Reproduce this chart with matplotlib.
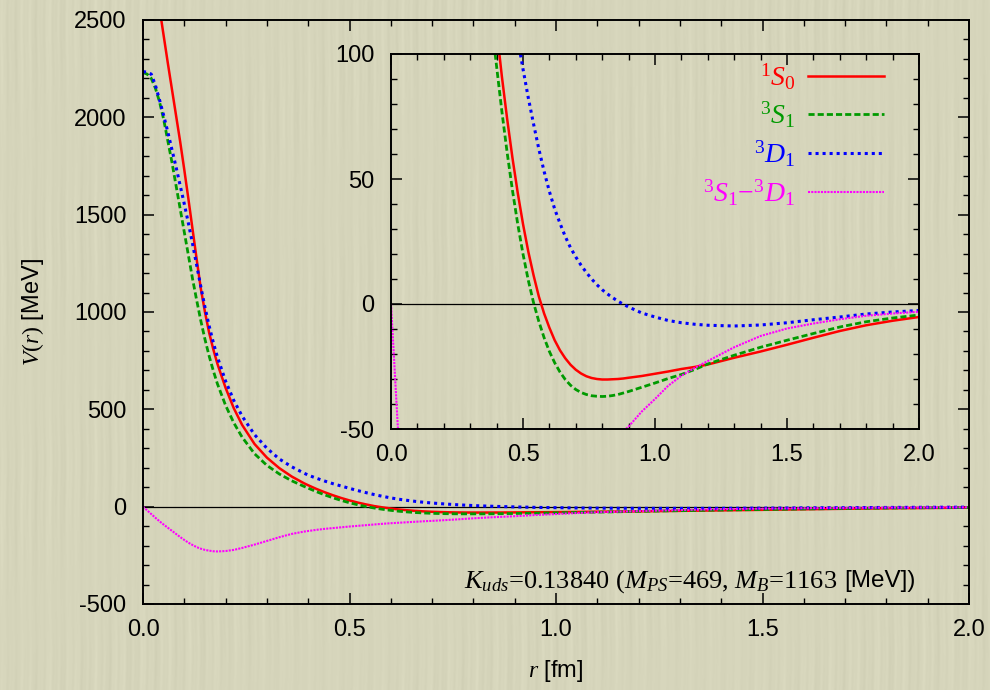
import numpy as np
import matplotlib
matplotlib.use("Agg")
import matplotlib.pyplot as plt
from matplotlib.offsetbox import TextArea, HPacker, AnchoredOffsetbox

plt.rcParams['font.family'] = 'Liberation Sans'
plt.rcParams['mathtext.fontset'] = 'custom'
plt.rcParams['mathtext.rm'] = 'Liberation Serif'
plt.rcParams['mathtext.it'] = 'Liberation Serif:italic'
plt.rcParams['mathtext.bf'] = 'Liberation Serif:bold'
plt.rcParams['axes.unicode_minus'] = False

# radial distance [fm]
r = [0.00, 0.01, 0.02, 0.03, 0.04, 0.05, 0.06, 0.07, 0.08, 0.09,
     0.10, 0.11, 0.12, 0.13, 0.14, 0.15, 0.16, 0.17, 0.18, 0.20,
     0.22, 0.24, 0.27, 0.30, 0.33, 0.36, 0.39,
     0.40, 0.42, 0.44, 0.46, 0.48, 0.50, 0.52, 0.54, 0.56, 0.58,
     0.60, 0.62, 0.64, 0.66, 0.68, 0.70, 0.72, 0.74, 0.76, 0.78,
     0.80, 0.82, 0.84, 0.86, 0.88, 0.90,
     0.95, 1.00, 1.05, 1.10, 1.15, 1.20, 1.30, 1.40,
     1.50, 1.60, 1.70, 1.80, 1.90, 2.00]

# potentials [MeV]
v_1s0 = [3150, 3000, 2850, 2705, 2560, 2420, 2280, 2145, 2010, 1875,
         1730, 1580, 1425, 1270, 1120, 1000, 895, 810, 735, 610,
         505, 420, 322, 252, 198, 155, 120,
         110, 91, 74, 58.5, 44.5, 32, 21, 11.5, 3.0, -3.8,
         -9.5, -14.5, -18.5, -21.7, -24.3, -26.3, -27.8, -28.9, -29.6, -30.0,
         -30.2, -30.2, -30.1, -30.0, -29.8, -29.5,
         -28.8, -27.9, -27.0, -26.0, -25.2, -24.2, -21.5, -19.0,
         -16.3, -13.5, -10.8, -8.5, -6.7, -5.2]

v_3s1 = [2230, 2222, 2200, 2150, 2080, 1990, 1880, 1770, 1650, 1530,
         1410, 1290, 1170, 1060, 955, 860, 775, 700, 632, 520,
         430, 357, 272, 212, 168, 133, 104,
         95, 77, 60.5, 45.5, 32, 20, 9.5, 0.5, -7, -13.5,
         -19, -23.5, -27.2, -30.2, -32.5, -34.2, -35.4, -36.2, -36.7, -36.9,
         -37.0, -36.9, -36.6, -36.2, -35.6, -35.0,
         -33.3, -31.6, -29.8, -28.2, -26.2, -24.0, -20.5, -17.3,
         -14.5, -11.8, -9.2, -7.1, -5.6, -4.4]

v_3d1 = [2235, 2232, 2222, 2165, 2090, 2010, 1925, 1835, 1745, 1650,
         1555, 1455, 1350, 1240, 1130, 1025, 930, 845, 770, 645,
         545, 465, 370, 300, 245, 205, 172,
         162, 146, 131.5, 118, 106, 94, 82.5, 72, 62, 53,
         45, 38, 32.3, 27, 22.5, 18.8, 15.5, 12.6, 10, 7.7,
         5.7, 4, 2.5, 1.1, -0.1, -1.2,
         -3.6, -5.2, -6.6, -7.5, -8.1, -8.5, -8.8, -8.4,
         -7.5, -6.3, -5.2, -4.0, -3.2, -2.6]

v_sd = [0, -19, -38, -57, -75, -92, -108, -124, -140, -156,
        -171, -185, -197, -208, -216, -222, -226, -229, -230, -228,
        -222, -212, -195, -176, -157, -140, -128,
        -125, -119, -114, -110, -106, -102, -98.5, -95, -91.5, -88,
        -85, -82.5, -80, -77.5, -75, -73, -70.5, -68, -65.5, -62.5,
        -60, -57.5, -55, -53, -51, -49,
        -43, -38, -32.7, -28.7, -25.6, -22.8, -17.3, -12.8,
        -9.8, -7.8, -6.1, -4.7, -3.8, -3.1]

labels = [r'$^1S_0$', r'$^3S_1$', r'$^3D_1$', r'$^3S_1{-}^3D_1$']
colors = ['#ff0000', '#009a00', '#0000ff', '#ff00ff']
styles = [dict(lw=1.8, ls='-'),
          dict(lw=2.0, dashes=(2.2, 1.1)),
          dict(lw=2.2, dashes=(1.0, 1.3)),
          dict(lw=1.5, dashes=(1.0, 0.55))]
series = [v_1s0, v_3s1, v_3d1, v_sd]

fig = plt.figure(figsize=(9.9, 6.9), dpi=100)

# paper-like background with faint vertical streaks
W, H = 990, 690
xx = np.arange(W)[None, :]
yy = np.arange(H)[:, None]
streak = (0.45 * np.sin(2 * np.pi * xx / 9.3 + 0.4 * np.sin(2 * np.pi * yy / 170))
          + 0.35 * np.sin(2 * np.pi * xx / 23.7 + 1.3)
          + 0.25 * np.sin(2 * np.pi * xx / 4.1 + 0.8 * np.sin(2 * np.pi * yy / 97)))
streak = streak * (0.7 + 0.3 * np.sin(2 * np.pi * yy / 230 + xx / 60.0))
base = np.array([214, 213, 187]) / 255.0
tex = np.clip(base[None, None, :] + 0.022 * streak[:, :, None], 0, 1)
fig.figimage(tex, xo=0, yo=0, origin='upper', zorder=-10)


def style_axes(a):
    a.set_facecolor('none')
    a.axhline(0, color='black', lw=0.9, zorder=1)
    a.set_xlim(0, 2)
    a.set_xticks(np.arange(0, 2.01, 0.5))
    a.set_xticks(np.arange(0, 2.01, 0.1), minor=True)
    a.set_xticklabels(['%.1f' % t for t in np.arange(0, 2.01, 0.5)])
    a.tick_params(which='both', direction='in', top=True, right=True, labelsize=17)
    a.tick_params(which='major', length=8, width=1.1)
    a.tick_params(which='minor', length=4.5, width=1.0)
    a.tick_params(axis='x', pad=11)
    a.tick_params(axis='y', pad=12)
    for s in a.spines.values():
        s.set_linewidth(1.4)


ax = fig.add_axes([143 / 990, 1 - 604 / 690, 826 / 990, 584 / 690])
for v, c, st in zip(series, colors, styles):
    ax.plot(r, v, color=c, **st)
style_axes(ax)
ax.set_ylim(-500, 2500)
ax.set_yticks(np.arange(-500, 2501, 500))
ax.set_yticks(np.arange(-500, 2501, 100), minor=True)
ax.set_xlabel(r'$r$ [fm]', fontsize=17, labelpad=12)
ax.set_ylabel(r'$V(r)$ [MeV]', fontsize=17, labelpad=20)

t1 = TextArea(r'$K_{uds}$=0.13840 ($M_{PS}$=469, $M_B$=1163',
              textprops=dict(fontfamily='Liberation Serif', fontsize=19))
t2 = TextArea('[MeV])', textprops=dict(fontfamily='Liberation Sans', fontsize=17.5))
note = AnchoredOffsetbox(loc='lower right', child=HPacker(children=[t1, t2], sep=5, align='baseline'),
                         bbox_to_anchor=(0.935, 0.016), bbox_transform=ax.transAxes,
                         frameon=False, pad=0, borderpad=0)
ax.add_artist(note)

# zoomed view of the attractive pocket
ins = fig.add_axes([391 / 990, 1 - 429 / 690, 528 / 990, 375 / 690])
for v, c, st, lab in zip(series, colors, styles, labels):
    ins.plot(r, v, color=c, label=lab, **st)
style_axes(ins)
ins.set_ylim(-50, 100)
ins.set_yticks([-50, 0, 50, 100])
ins.set_yticks(np.arange(-50, 101, 10), minor=True)

ins.legend(loc='upper right', bbox_to_anchor=(0.955, 1.01), frameon=False,
           markerfirst=False, fontsize=20, handlelength=2.75,
           handletextpad=0.45, labelspacing=0.3, borderaxespad=0,
           labelcolor='linecolor')

fig.savefig('out.png', dpi=100)
